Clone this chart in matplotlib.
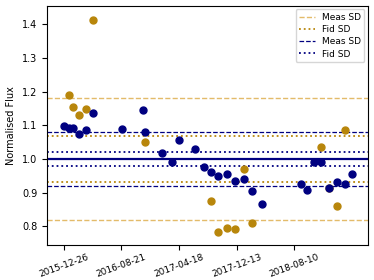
import pandas as pd
import matplotlib
matplotlib.use("Agg")
import matplotlib.pyplot as plt
import matplotlib.dates as mdates

# navy star: observation dates and normalised flux
navy_dates = ["2015-12-26", "2016-01-16", "2016-02-05", "2016-02-28", "2016-03-28",
              "2016-04-27", "2016-08-25", "2016-11-19", "2016-11-26", "2017-02-05",
              "2017-03-18", "2017-04-20", "2017-06-23", "2017-07-29", "2017-08-30",
              "2017-09-28", "2017-11-05", "2017-12-06", "2018-01-14", "2018-02-16",
              "2018-03-29", "2018-09-05", "2018-10-02", "2018-10-31", "2018-11-30",
              "2019-01-01", "2019-02-02", "2019-03-07", "2019-04-05"]
navy_flux = [1.098, 1.093, 1.092, 1.075, 1.087,
             1.136, 1.089, 1.145, 1.080, 1.019,
             0.992, 1.057, 1.029, 0.977, 0.960,
             0.949, 0.956, 0.935, 0.940, 0.905,
             0.867, 0.927, 0.907, 0.990, 0.990,
             0.915, 0.933, 0.927, 0.955]

# gold star
gold_dates = ["2016-01-16", "2016-02-05", "2016-02-28", "2016-03-28", "2016-04-27",
              "2016-11-26", "2017-08-30", "2017-09-28", "2017-11-05", "2017-12-06",
              "2018-01-14", "2018-02-16", "2018-11-30", "2019-01-01", "2019-02-02",
              "2019-03-07"]
gold_flux = [1.189, 1.154, 1.130, 1.149, 1.413,
             1.050, 0.876, 0.784, 0.795, 0.793,
             0.969, 0.810, 1.036, 0.915, 0.860,
             1.087]

# standard deviations
gold_meas_sd = 0.181
gold_fid_sd = 0.068
navy_meas_sd = 0.079
navy_fid_sd = 0.022

tick_dates = ["2015-12-26", "2016-08-21", "2017-04-18", "2017-12-13", "2018-08-10"]

gold_c = "#b8860b"
gold_light = "#e3bb6a"
navy_c = "#000080"

plt.rcParams["font.size"] = 7

fig = plt.figure(figsize=(3.74, 2.8), dpi=100)
ax = fig.add_axes([0.126, 0.125, 0.858, 0.854])

gd = pd.to_datetime(gold_dates)
nd = pd.to_datetime(navy_dates)
ax.plot(gd, gold_flux, "o", color=gold_c, ms=5, zorder=3)
ax.plot(nd, navy_flux, "o", color=navy_c, ms=5, zorder=4)

ax.axhline(1.0, color=navy_c, lw=1.6)
for s in (1, -1):
    ax.axhline(1 + s * gold_meas_sd, color=gold_light, ls="--", lw=1,
               label="Meas SD" if s == 1 else None)
    ax.axhline(1 + s * gold_fid_sd, color=gold_c, ls=":", lw=1.3,
               label="Fid SD" if s == 1 else None)
    ax.axhline(1 + s * navy_meas_sd, color=navy_c, ls="--", lw=0.9,
               label="Meas SD" if s == 1 else None)
    ax.axhline(1 + s * navy_fid_sd, color=navy_c, ls=":", lw=1.3,
               label="Fid SD" if s == 1 else None)

ax.set_xlim(pd.Timestamp("2015-10-19"), pd.Timestamp("2019-06-11"))
ax.set_ylim(0.745, 1.454)
ax.set_yticks([0.8, 0.9, 1.0, 1.1, 1.2, 1.3, 1.4])
ax.set_xticks(pd.to_datetime(tick_dates))
ax.xaxis.set_major_formatter(mdates.DateFormatter("%Y-%m-%d"))
ax.tick_params(axis="x", labelsize=6.5, pad=2)
plt.setp(ax.get_xticklabels(), rotation=20, ha="center")
ax.set_ylabel("Normalised Flux")
ax.legend(loc="upper right", fontsize=6.5, handlelength=1.7,
          borderaxespad=0.4, labelspacing=0.35)

fig.savefig("out.png", dpi=100)
